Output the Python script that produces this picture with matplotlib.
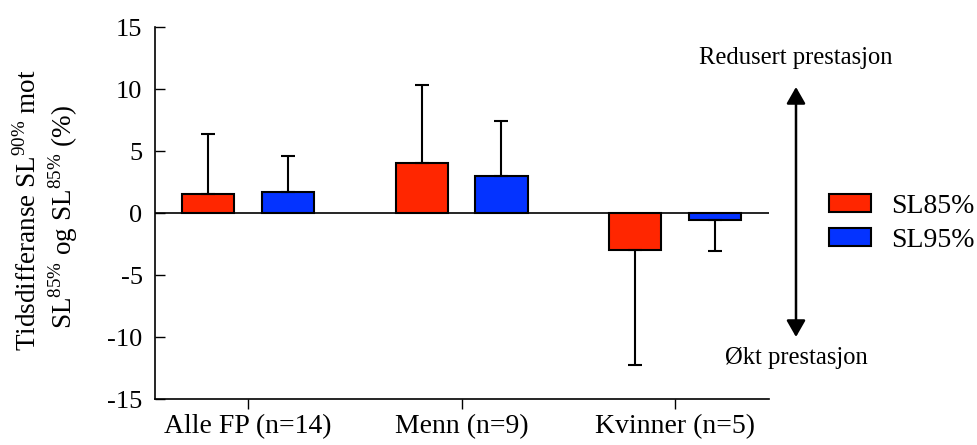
import numpy as np
import matplotlib
matplotlib.use("Agg")
import matplotlib.pyplot as plt

plt.rcParams['font.family'] = ['Liberation Serif', 'DejaVu Serif']
plt.rcParams['mathtext.fontset'] = 'custom'
plt.rcParams['mathtext.rm'] = 'Liberation Serif'

groups = ["Alle FP (n=14)", "Menn (n=9)", "Kvinner (n=5)"]
series = ["SL85%", "SL95%"]
sl85 = [1.5, 4.0, -3.0]
sl85_err = [4.9, 6.3, 9.25]
sl95 = [1.7, 3.0, -0.55]
sl95_err = [2.9, 4.4, 2.5]
yticks = [-15, -10, -5, 0, 5, 10, 15]

RED = '#FF2600'
BLUE = '#0433FF'


def one_sided(vals, errs):
    # error bar only away from zero
    vals = np.asarray(vals)
    errs = np.asarray(errs)
    lower = np.where(vals < 0, errs, 0)
    upper = np.where(vals > 0, errs, 0)
    return np.vstack([lower, upper])


fig = plt.figure(figsize=(9.77, 4.45), dpi=100)
ax = fig.add_axes([155 / 977, 46 / 445, 614 / 977, 372 / 445])

x = np.arange(len(groups))
width = 0.244
offset = 0.187

ax.bar(x - offset, sl85, width, color=RED, edgecolor='black', linewidth=1.5,
       yerr=one_sided(sl85, sl85_err), capsize=5,
       error_kw=dict(elinewidth=1.5, capthick=1.5, ecolor='black'), label=series[0], zorder=3)
ax.bar(x + offset, sl95, width, color=BLUE, edgecolor='black', linewidth=1.5,
       yerr=one_sided(sl95, sl95_err), capsize=5,
       error_kw=dict(elinewidth=1.5, capthick=1.5, ecolor='black'), label=series[1], zorder=3)

ax.axhline(0, color='black', linewidth=1.2, zorder=2)

ax.set_xlim(-0.436, 2.44)
ax.set_ylim(-15, 15)
ax.set_yticks(yticks)
ax.set_yticklabels([str(t) for t in yticks], fontsize=19)
ax.set_xticks(x)
ax.set_xticklabels(groups, fontsize=20)

ax.spines['top'].set_visible(False)
ax.spines['right'].set_visible(False)
for s in ('left', 'bottom'):
    ax.spines[s].set_linewidth(1.2)
ax.tick_params(axis='y', direction='in', length=7, width=1, pad=9)
ax.tick_params(axis='x', direction='out', length=7, width=1, pad=4)

fig.text(28 / 977, 1 - 210 / 445, r'Tidsdifferanse SL$^{90\%}$ mot', rotation=90,
         ha='center', va='center', fontsize=19.5)
fig.text(63 / 977, 1 - 217 / 445, r'SL$^{85\%}$ og SL$^{85\%}$ (%)', rotation=90,
         ha='center', va='center', fontsize=19.5)

# performance arrow to the right of the plot
arrow_x = 796 / 977
fig.add_artist(matplotlib.patches.FancyArrowPatch(
    (arrow_x, 1 - 87 / 445), (arrow_x, 1 - 337 / 445), transform=fig.transFigure,
    arrowstyle='<|-|>,head_length=0.56,head_width=0.32', mutation_scale=18,
    color='black', linewidth=1.8, shrinkA=0, shrinkB=0))
fig.text(arrow_x, 1 - 58 / 445, 'Redusert prestasjon', ha='center', va='center', fontsize=17.7)
fig.text(arrow_x, 1 - 358 / 445, 'Økt prestasjon', ha='center', va='center', fontsize=17.7)

leg = fig.legend(loc='upper left', bbox_to_anchor=(829 / 977, 1 - 194 / 445), frameon=False,
                 fontsize=20, handlelength=1.5, handleheight=0.6, handletextpad=0.75,
                 labelspacing=0.32, borderaxespad=0, borderpad=0)

plt.savefig('out.png', dpi=100)
plt.close()
